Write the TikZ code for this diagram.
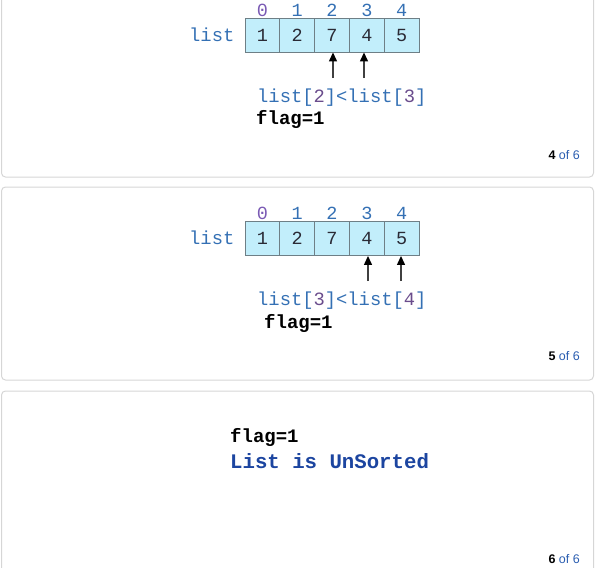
\documentclass[tikz,border=0pt]{standalone}
\usepackage{fontspec}
\setmainfont{Liberation Sans}
\setmonofont{Liberation Mono}
\usetikzlibrary{arrows.meta}
\definecolor{panelborder}{HTML}{D6D6D6}
\definecolor{cellfill}{HTML}{C2EEFB}
\definecolor{celldraw}{HTML}{6E7F86}
\definecolor{codeblue}{HTML}{3470B4}
\definecolor{idxpurple}{HTML}{7A5AB4}
\definecolor{digitpurple}{HTML}{6A4C8C}
\definecolor{darkblue}{HTML}{1C45A0}
\definecolor{pageblue}{HTML}{2A5DB0}
\definecolor{celltext}{HTML}{2A2A35}
\begin{document}
\begin{tikzpicture}[x=1pt,y=-1pt,
 panel/.style={draw=panelborder,line width=1pt,rounded corners=4pt},
 cellbox/.style={draw=celldraw,fill=cellfill,line width=0.9pt,minimum width=34.8pt,minimum height=34pt,inner sep=0pt,font=\ttfamily\fontsize{18.5}{18.5}\selectfont,text=celltext},
 idx/.style={font=\ttfamily\fontsize{18.5}{18.5}\selectfont,inner sep=0pt,anchor=base},
 lbl/.style={font=\ttfamily\fontsize{18.8}{18.8}\selectfont,text=codeblue,inner sep=0pt,anchor=base west},
 flagtxt/.style={font=\ttfamily\bfseries\fontsize{19}{19}\selectfont,inner sep=0pt,anchor=base west},
 sorttxt/.style={font=\ttfamily\bfseries\fontsize{20.7}{20.7}\selectfont,text=darkblue,inner sep=0pt,anchor=base west},
 ptr/.style={draw=black!75,line width=1.3pt,-{Triangle[length=9pt,width=8pt,color=black]}},
 pagenum/.style={font=\fontsize{12.5}{12.5}\selectfont,inner sep=0pt,anchor=base east},
]
\useasboundingbox (0,0) rectangle (595,568);
\clip (0,0) rectangle (595,568);

% panels
\draw[panel] (1.5,-20) rectangle (593.5,177);
\draw[panel] (1.5,187) rectangle (593.5,380);
\draw[panel] (1.5,391) rectangle (593.5,620);

% panel 1
\node[lbl] (p1list) at (189,41) {list};
\foreach \v/\c [count=\i from 0] in {1/idxpurple,2/codeblue,7/codeblue,4/codeblue,5/codeblue}{
  \node[cellbox] (p1c\i) at ({262.4+34.8*\i},35) {\v};
  \node[idx,text=\c] (p1i\i) at ({262.4+34.8*\i},16) {\i};
}
\coordinate (p1a) at (333,78);
\coordinate (p1b) at (364,78);
\draw[ptr] (p1a) -- (p1a |- p1c2.south);
\draw[ptr] (p1b) -- (p1b |- p1c3.south);
\node[lbl] (p1cmp) at (257,102) {list[\textcolor{digitpurple}{2}]<list[\textcolor{digitpurple}{3}]};
\node[flagtxt] (p1flag) at (256,124) {flag=1};
\node[pagenum] (p1page) at (580,159) {\textbf{4} \textcolor{pageblue}{of 6}};

% panel 2
\node[lbl] (p2list) at (189,244) {list};
\foreach \v/\c [count=\i from 0] in {1/idxpurple,2/codeblue,7/codeblue,4/codeblue,5/codeblue}{
  \node[cellbox] (p2c\i) at ({262.4+34.8*\i},238.5) {\v};
  \node[idx,text=\c] (p2i\i) at ({262.4+34.8*\i},219) {\i};
}
\coordinate (p2a) at (368,281);
\coordinate (p2b) at (401,281);
\draw[ptr] (p2a) -- (p2a |- p2c3.south);
\draw[ptr] (p2b) -- (p2b |- p2c4.south);
\node[lbl] (p2cmp) at (257,305) {list[\textcolor{digitpurple}{3}]<list[\textcolor{digitpurple}{4}]};
\node[flagtxt] (p2flag) at (264,328) {flag=1};
\node[pagenum] (p2page) at (580,360) {\textbf{5} \textcolor{pageblue}{of 6}};

% panel 3
\node[flagtxt] (p3flag) at (230,442) {flag=1};
\node[sorttxt] (p3msg) at (230,468) {List is UnSorted};
\node[pagenum] (p3page) at (580,563) {\textbf{6} \textcolor{pageblue}{of 6}};
\end{tikzpicture}
\end{document}
